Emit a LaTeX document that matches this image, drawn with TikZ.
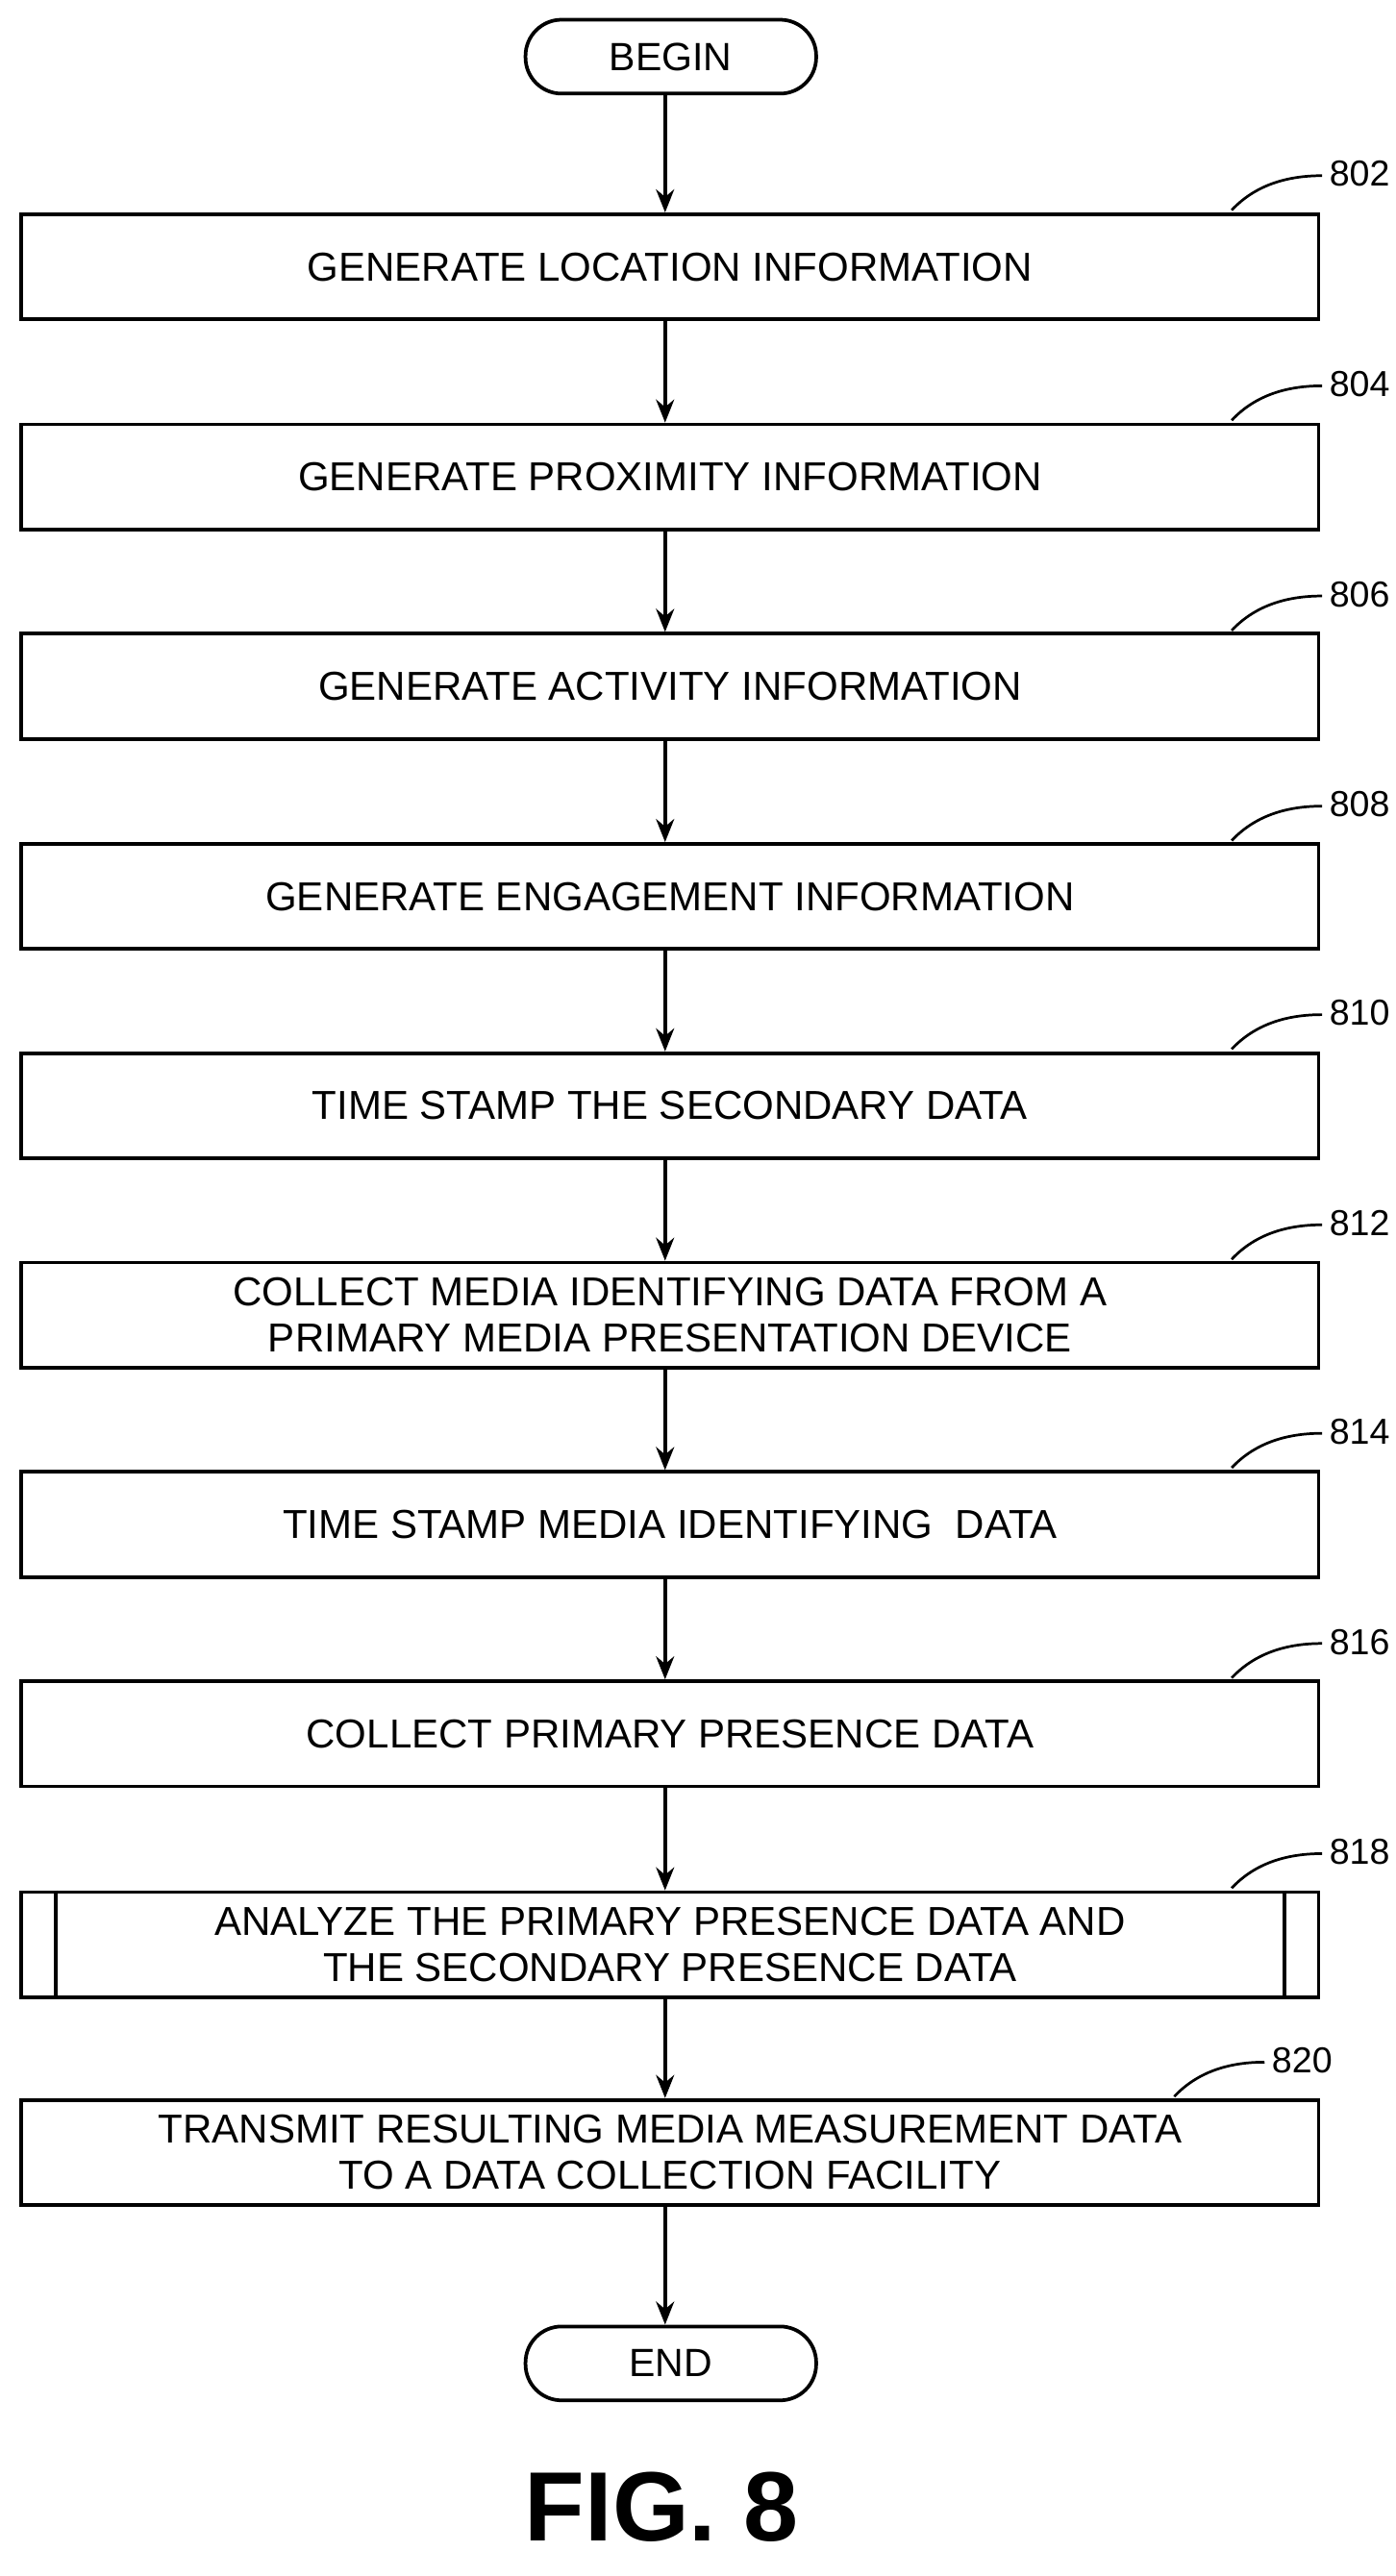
\documentclass[tikz,border=0pt]{standalone}
\usepackage{fontspec}
\setmainfont{Liberation Sans}
\usetikzlibrary{arrows.meta}
\begin{document}
\begin{tikzpicture}[x=1pt,y=-1pt,
  box/.style={draw,line width=2.2pt,minimum width=790pt,minimum height=64pt,align=center,font=\fontsize{24.6}{28}\selectfont,inner sep=0pt},
  term/.style={draw,line width=2.2pt,rounded corners=22pt,minimum width=177pt,minimum height=45pt,font=\fontsize{24}{26}\selectfont,inner sep=0pt},
  arr/.style={line width=2.5pt,-{Stealth[length=14pt,width=11pt]}},
  lab/.style={font=\fontsize{22}{24}\selectfont,anchor=west},
  hook/.style={line width=1.6pt}]
\useasboundingbox (0,0) rectangle (850,1569);
\node[term] (b) at (408.5,34.5) {BEGIN};
\node[box] (n1) at (408,162.5) {GENERATE LOCATION INFORMATION};
\node[box] (n2) at (408,290.5) {GENERATE PROXIMITY INFORMATION};
\node[box] (n3) at (408,418) {GENERATE ACTIVITY INFORMATION};
\node[box] (n4) at (408,546) {GENERATE ENGAGEMENT INFORMATION};
\node[box] (n5) at (408,673.5) {TIME STAMP THE SECONDARY DATA};
\node[box] (n6) at (408,801) {COLLECT MEDIA IDENTIFYING DATA FROM A\\PRIMARY MEDIA PRESENTATION DEVICE};
\node[box] (n7) at (408,928.5) {TIME STAMP MEDIA IDENTIFYING\ \ DATA};
\node[box] (n8) at (408,1056) {COLLECT PRIMARY PRESENCE DATA};
\node[box] (n9) at (408,1184.5) {ANALYZE THE PRIMARY PRESENCE DATA AND\\THE SECONDARY PRESENCE DATA};
\draw[line width=2.2pt] ([xshift=22pt]n9.north west) -- ([xshift=22pt]n9.south west);
\draw[line width=2.2pt] ([xshift=-22pt]n9.north east) -- ([xshift=-22pt]n9.south east);
\node[box] (n10) at (408,1311) {TRANSMIT RESULTING MEDIA MEASUREMENT DATA\\TO A DATA COLLECTION FACILITY};
\node[term] (e) at (408.5,1439.5) {END};
\foreach \a/\b in {b/n1,n1/n2,n2/n3,n3/n4,n4/n5,n5/n6,n6/n7,n7/n8,n8/n9,n9/n10,n10/e}
  \draw[arr] (\a.south -| 405,0) -- (\b.north -| 405,0);
\foreach \n/\y in {802/130,804/258,806/386,808/514,810/641,812/769,814/896,816/1024,818/1152}{
  \coordinate (h\n) at (750,\y-2);
  \draw[hook] (h\n) .. controls (765,\y-18) and (785,\y-23) .. (805,\y-23);
  \node[lab] (l\n) at (806,\y-24) {\n};
}
\coordinate (h820) at (715,1277);
\draw[hook] (h820) .. controls (730,1261) and (750,1256) .. (770,1256);
\node[lab] (l820) at (771,1255) {820};
\node[font=\fontsize{60}{64}\bfseries\selectfont] (fig) at (403,1527) {FIG. 8};
\end{tikzpicture}
\end{document}
